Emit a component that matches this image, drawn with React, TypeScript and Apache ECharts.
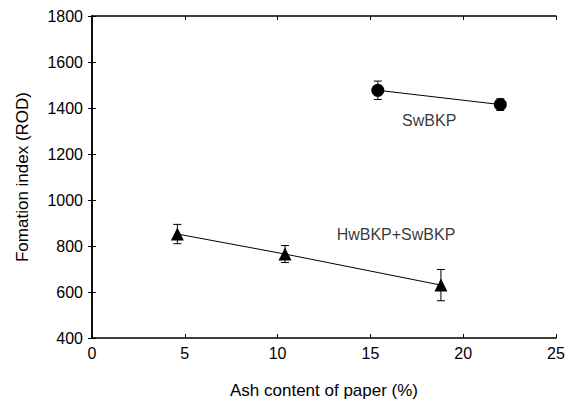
import React, { useEffect, useRef } from "react";
import * as echarts from "echarts";

const hwX = [4.6, 10.4, 18.8];
const hwY = [852, 765, 630];
const hwErr = [42, 37, 68];

const swX = [15.4, 22.0];
const swY = [1477, 1415];
const swErr = [40, 25];

const labelNames = ["SwBKP", "HwBKP+SwBKP"];
const labelX = [18.17, 16.38];
const labelY = [1346, 851];

const FONT = "Liberation Sans, Arial, Helvetica, sans-serif";

export default function App() {
  const ref = useRef<HTMLDivElement>(null);
  useEffect(() => {
    if (!ref.current) return;
    const chart = echarts.init(ref.current, null, { renderer: "svg" });
    const errData = (xs: number[], ys: number[], es: number[]) =>
      xs.map((x, i) => [x, ys[i] - es[i], ys[i] + es[i]]);
    const errSeries = (data: number[][]) => ({
      type: "custom",
      data,
      z: 1,
      renderItem: (params: any, api: any) => {
        const x = api.value(0);
        const lo = api.coord([x, api.value(1)]);
        const hi = api.coord([x, api.value(2)]);
        const w = 4;
        const st = { stroke: "#000", lineWidth: 1 };
        return {
          type: "group",
          children: [
            { type: "line", shape: { x1: lo[0], y1: lo[1], x2: hi[0], y2: hi[1] }, style: st },
            { type: "line", shape: { x1: lo[0] - w, y1: lo[1], x2: lo[0] + w, y2: lo[1] }, style: st },
            { type: "line", shape: { x1: hi[0] - w, y1: hi[1], x2: hi[0] + w, y2: hi[1] }, style: st },
          ],
        };
      },
    });
    const axisCommon = {
      axisLine: { show: true, lineStyle: { color: "#000", width: 1.5 } },
      axisTick: { show: true, inside: true, length: 4, lineStyle: { color: "#000", width: 1 } },
      splitLine: { show: false },
    };
    const fmt = (v: number) => String(v);
    chart.setOption({
      animation: false,
      grid: { left: 92, right: 14, top: 16, bottom: 62 },
      xAxis: [
        {
          type: "value",
          min: 0,
          max: 25,
          interval: 5,
          ...axisCommon,
          axisLabel: { color: "#000", fontSize: 16, fontFamily: FONT, margin: 7, formatter: fmt },
          name: "Ash content of paper (%)",
          nameLocation: "middle",
          nameGap: 44,
          nameTextStyle: { color: "#000", fontSize: 17, fontFamily: FONT },
        },
        {
          type: "value",
          position: "top",
          min: 0,
          max: 25,
          interval: 5,
          ...axisCommon,
          axisLabel: { show: false },
        },
      ],
      yAxis: [
        {
          type: "value",
          min: 400,
          max: 1800,
          interval: 200,
          ...axisCommon,
          axisLabel: { color: "#000", fontSize: 16, fontFamily: FONT, margin: 9, formatter: fmt },
          name: "Fomation index (ROD)",
          nameLocation: "middle",
          nameGap: 61,
          nameTextStyle: { color: "#000", fontSize: 17, fontFamily: FONT },
        },
        {
          type: "value",
          position: "right",
          min: 400,
          max: 1800,
          interval: 200,
          ...axisCommon,
          axisLabel: { show: false },
        },
      ],
      series: [
        errSeries(errData(hwX, hwY, hwErr)),
        errSeries(errData(swX, swY, swErr)),
        {
          type: "line",
          data: hwX.map((x, i) => [x, hwY[i]]),
          symbol: "triangle",
          symbolSize: 13,
          itemStyle: { color: "#000" },
          lineStyle: { color: "#000", width: 1 },
          z: 3,
        },
        {
          type: "line",
          data: swX.map((x, i) => [x, swY[i]]),
          symbol: "circle",
          symbolSize: 13,
          itemStyle: { color: "#000" },
          lineStyle: { color: "#000", width: 1 },
          z: 3,
        },
        {
          type: "scatter",
          data: labelX.map((x, i) => ({ name: labelNames[i], value: [x, labelY[i]] })),
          symbolSize: 0,
          silent: true,
          label: {
            show: true,
            position: "inside",
            formatter: "{b}",
            color: "#000",
            fontSize: 16,
            fontFamily: FONT,
          },
        },
      ],
    });
    return () => chart.dispose();
  }, []);
  return (
    <div
      ref={ref}
      style={{ position: "absolute", left: 0, top: 0, width: 570, height: 404, background: "#fff" }}
    />
  );
}
